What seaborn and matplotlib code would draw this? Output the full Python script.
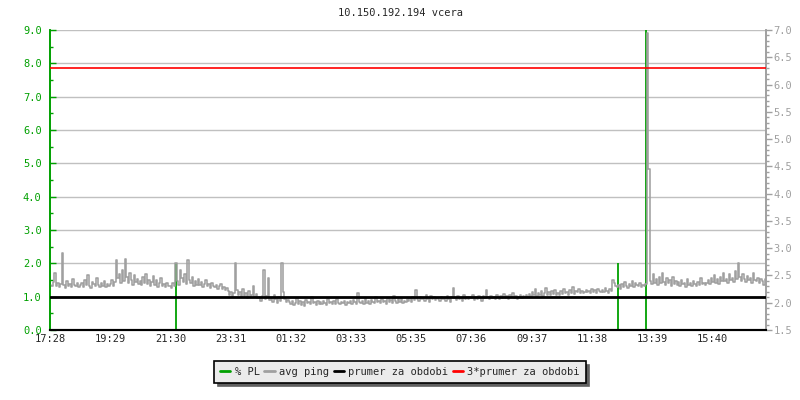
import numpy as np
import matplotlib
matplotlib.use("Agg")
import matplotlib.pyplot as plt
from matplotlib.ticker import MultipleLocator, FixedLocator
import seaborn as sns

# avg ping [ms], one sample every 3 minutes from 17:28 (20 samples = 1 hour per row)
ping = [
    2.33, 2.30, 2.38, 2.55, 2.31, 2.36, 2.28, 2.34, 2.91, 2.32, 2.27, 2.40, 2.31, 2.35, 2.29, 2.44, 2.33, 2.30, 2.37, 2.28,
    2.32, 2.36, 2.29, 2.41, 2.33, 2.50, 2.31, 2.27, 2.38, 2.34, 2.30, 2.45, 2.32, 2.28, 2.36, 2.31, 2.40, 2.29, 2.34, 2.30,
    2.35, 2.42, 2.31, 2.38, 2.78, 2.45, 2.52, 2.36, 2.60, 2.40, 2.80, 2.48, 2.37, 2.55, 2.41, 2.33, 2.50, 2.38, 2.44, 2.35,
    2.40, 2.32, 2.47, 2.36, 2.52, 2.34, 2.42, 2.30, 2.38, 2.49, 2.33, 2.41, 2.29, 2.36, 2.45, 2.31, 2.34, 2.28, 2.37, 2.30,
    2.31, 2.27, 2.36, 2.30, 2.72, 2.40, 2.33, 2.60, 2.45, 2.38, 2.52, 2.35, 2.78, 2.42, 2.36, 2.48, 2.31, 2.39, 2.33, 2.44,
    2.32, 2.38, 2.29, 2.35, 2.41, 2.30, 2.34, 2.27, 2.37, 2.31, 2.28, 2.33, 2.26, 2.30, 2.35, 2.25, 2.29, 2.24, 2.27, 2.22,
    2.15, 2.20, 2.12, 2.18, 2.72, 2.24, 2.14, 2.19, 2.10, 2.26, 2.13, 2.17, 2.09, 2.21, 2.12, 2.15, 2.30, 2.11, 2.16, 2.08,
    2.10, 2.04, 2.13, 2.60, 2.07, 2.12, 2.45, 2.05, 2.09, 2.02, 2.14, 2.06, 2.00, 2.11, 2.04, 2.72, 2.20, 2.07, 2.01, 2.05,
    2.02, 1.97, 2.04, 1.95, 2.00, 2.08, 1.98, 2.03, 1.96, 2.01, 1.94, 2.05, 1.99, 2.02, 1.97, 2.10, 1.99, 2.01, 1.96, 2.03,
    1.98, 2.02, 1.97, 2.04, 2.00, 1.96, 2.06, 1.99, 2.01, 1.97, 2.03, 1.98, 2.07, 2.00, 1.97, 2.02, 1.99, 2.04, 1.96, 2.01,
    2.00, 2.03, 1.98, 2.05, 2.01, 1.97, 2.17, 2.02, 1.99, 2.04, 1.98, 2.08, 2.00, 2.03, 1.97, 2.05, 2.01, 1.99, 2.10, 2.02,
    2.03, 1.99, 2.06, 2.01, 2.04, 1.98, 2.09, 2.02, 2.05, 2.00, 2.12, 2.03, 1.99, 2.06, 2.02, 2.08, 2.00, 2.04, 2.01, 2.07,
    2.04, 2.08, 2.02, 2.10, 2.05, 2.23, 2.07, 2.03, 2.11, 2.06, 2.09, 2.04, 2.15, 2.07, 2.02, 2.12, 2.06, 2.10, 2.05, 2.08,
    2.07, 2.03, 2.11, 2.06, 2.09, 2.04, 2.13, 2.07, 2.02, 2.10, 2.27, 2.08, 2.05, 2.12, 2.06, 2.09, 2.04, 2.14, 2.07, 2.10,
    2.06, 2.11, 2.08, 2.14, 2.05, 2.10, 2.07, 2.13, 2.09, 2.04, 2.12, 2.08, 2.24, 2.10, 2.06, 2.13, 2.09, 2.11, 2.07, 2.15,
    2.10, 2.07, 2.13, 2.09, 2.16, 2.08, 2.12, 2.06, 2.14, 2.10, 2.18, 2.09, 2.13, 2.07, 2.11, 2.15, 2.08, 2.12, 2.10, 2.14,
    2.11, 2.16, 2.13, 2.20, 2.14, 2.25, 2.12, 2.18, 2.15, 2.22, 2.13, 2.17, 2.27, 2.15, 2.19, 2.14, 2.21, 2.16, 2.23, 2.15,
    2.18, 2.14, 2.22, 2.16, 2.26, 2.17, 2.20, 2.15, 2.24, 2.18, 2.28, 2.16, 2.21, 2.19, 2.25, 2.17, 2.22, 2.18, 2.20, 2.23,
    2.19, 2.22, 2.17, 2.25, 2.20, 2.23, 2.18, 2.26, 2.21, 2.19, 2.24, 2.20, 2.27, 2.22, 2.18, 2.25, 2.21, 2.42, 2.36, 2.30,
    2.28, 2.33, 2.26, 2.35, 2.29, 2.38, 2.30, 2.27, 2.34, 2.31, 2.39, 2.28, 2.36, 2.32, 2.30, 2.37, 2.29, 2.33, 2.31, 2.35,
    6.95, 4.45, 2.40, 2.34, 2.52, 2.37, 2.43, 2.32, 2.48, 2.36, 2.55, 2.38, 2.33, 2.45, 2.36, 2.41, 2.31, 2.47, 2.35, 2.39,
    2.33, 2.38, 2.30, 2.42, 2.34, 2.37, 2.29, 2.44, 2.32, 2.36, 2.31, 2.40, 2.35, 2.30, 2.38, 2.33, 2.46, 2.34, 2.37, 2.32,
    2.36, 2.41, 2.34, 2.45, 2.38, 2.50, 2.37, 2.43, 2.35, 2.48, 2.40, 2.55, 2.39, 2.44, 2.36, 2.52, 2.42, 2.46, 2.38, 2.58,
    2.44, 2.72, 2.47, 2.40, 2.52, 2.43, 2.38, 2.49, 2.41, 2.45, 2.37, 2.54, 2.42, 2.39, 2.46, 2.36, 2.43, 2.40, 2.33, 2.44,
]
step_min = 3
ping_mean = 2.10
ping_mean3 = 6.30

# packet loss spikes [%]
pl_minutes = [253, 1142, 1199]
pl_values = [2.0, 2.0, 9.0]

tick_labels = ["17:28", "19:29", "21:30", "23:31", "01:32", "03:33",
               "05:35", "07:36", "09:37", "11:38", "13:39", "15:40"]
tick_step = 121.1

green = "#00a000"
grey = "#a0a0a0"

sns.set_style("white")
plt.rcParams['font.family'] = ['DejaVu Sans Mono']
fs = 7.5

fig = plt.figure(figsize=(8, 4), dpi=100)
ax = fig.add_axes([0.0625, 0.175, 0.895, 0.75])
ax2 = ax.twinx()

t = np.arange(len(ping)) * step_min

ax.vlines(pl_minutes, 0, pl_values, colors=green, lw=1.3, zorder=3)
sns.lineplot(x=t, y=ping, ax=ax2, color=grey, lw=1.15, drawstyle='steps-post', zorder=2)
ax2.axhline(ping_mean, color="black", lw=2, zorder=4)
ax2.axhline(ping_mean3, color="red", lw=1.2, zorder=4)

ax.set_xlim(0, 1440)
ax.set_ylim(0, 9)
ax2.set_ylim(1.5, 7.0)

left_ticks = np.arange(0, 9.01, 1.0)
ax.set_yticks(left_ticks)
ax.set_yticklabels(["%.1f" % v for v in left_ticks])
ax.yaxis.set_minor_locator(MultipleLocator(0.5))
ax.set_ylim(0, 9)
right_ticks = np.arange(1.5, 7.01, 0.5)
ax2.set_yticks(right_ticks)
ax2.set_yticklabels(["%.1f" % v for v in right_ticks])
ax2.yaxis.set_minor_locator(MultipleLocator(0.1))
ax2.set_ylim(1.5, 7.0)

ax.xaxis.set_major_locator(FixedLocator([i * tick_step for i in range(len(tick_labels))]))
ax.set_xticklabels(tick_labels)

ax.grid(axis='y', which='major', color='#c0c0c0', lw=1)
ax.set_axisbelow(True)

ax.tick_params(axis='y', which='both', direction='in', colors=green, labelsize=fs, pad=6, width=1)
ax.tick_params(axis='y', which='major', length=4)
ax.tick_params(axis='y', which='minor', length=2.5)
ax.tick_params(axis='x', direction='in', length=4, color='black', labelsize=fs, pad=3)
ax2.tick_params(axis='y', which='both', direction='out', colors=grey, labelsize=fs, pad=1.5, width=1)
ax2.tick_params(axis='y', which='major', length=4)
ax2.tick_params(axis='y', which='minor', length=2.5)

for a in (ax, ax2):
    a.spines['top'].set_visible(False)
    a.spines['left'].set_color(green)
    a.spines['right'].set_color(grey)
    a.spines['bottom'].set_color('black')
    a.spines['left'].set_linewidth(1.2)
    a.spines['right'].set_linewidth(1.2)
    a.spines['bottom'].set_linewidth(1.5)
ax.set_xlabel("")
ax2.set_ylabel("")

fig.text(0.5, 1 - 13 / 400, "10.150.192.194 vcera", ha='center', va='center', fontsize=fs)

handles = [plt.Line2D([], [], color=green, lw=2),
           plt.Line2D([], [], color=grey, lw=2),
           plt.Line2D([], [], color="black", lw=2),
           plt.Line2D([], [], color="red", lw=2)]
labels = ["% PL", "avg ping", "prumer za obdobi", "3*prumer za obdobi"]
leg = fig.legend(handles, labels, loc='center', bbox_to_anchor=(0.5, 1 - 372 / 400), ncol=4,
                 fontsize=fs, handlelength=1.0, handletextpad=0.4, columnspacing=0.45,
                 fancybox=False, frameon=True, borderpad=0.55, borderaxespad=0,
                 shadow={'ox': 2.5, 'oy': -2.5, 'color': '#606060', 'alpha': 1})
leg.get_frame().set_edgecolor('black')
leg.get_frame().set_facecolor('#ebebeb')
leg.get_frame().set_alpha(1)
leg.get_frame().set_linewidth(1.2)

fig.savefig("out.png", dpi=100)
